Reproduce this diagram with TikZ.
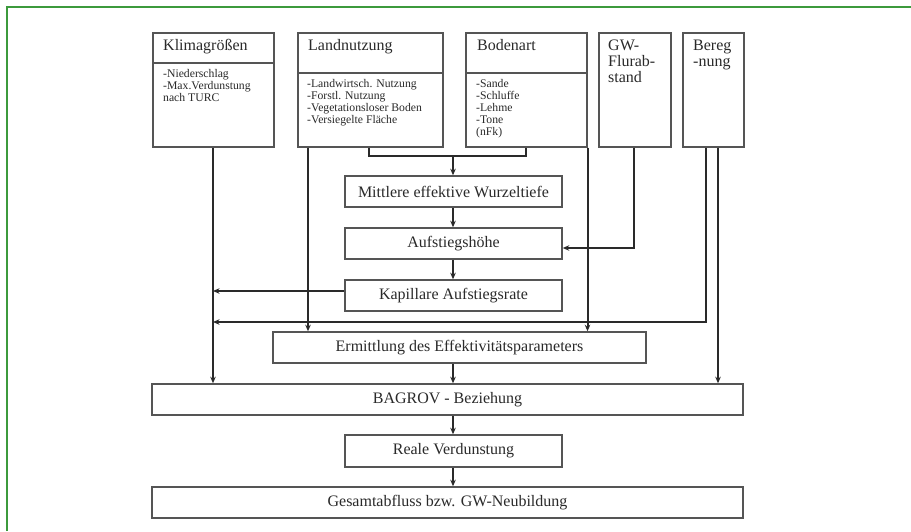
\documentclass[tikz,border=0pt]{standalone}
\usepackage{fontspec}
\setmainfont{Liberation Serif}
\usetikzlibrary{arrows.meta}
\definecolor{frameg}{HTML}{3C9A3C}
\definecolor{boxc}{HTML}{555555}
\definecolor{linec}{HTML}{2A2A2A}
\definecolor{txtc}{HTML}{2A2A2A}
\tikzset{
  box/.style={draw=boxc, line width=1.5pt, fill=white, inner sep=0pt, text=txtc,
    font=\fontsize{16}{16}\selectfont},
  titletxt/.style={anchor=base west, inner sep=0pt, text=txtc, font=\fontsize{16}{16}\selectfont},
  multitxt/.style={anchor=north west, inner sep=0pt, align=left, text=txtc, font=\fontsize{16}{16}\selectfont},
  subtxt/.style={anchor=north west, inner sep=0pt, align=left, text=txtc, font=\fontsize{11.7}{12.2}\selectfont},
  conn/.style={draw=linec, line width=2pt},
  arr/.style={conn, -{Stealth[length=6.5pt,width=5.5pt]}},
  divider/.style={draw=boxc, line width=1.5pt}
}
\begin{document}
\begin{tikzpicture}[x=1pt,y=-1pt]
\useasboundingbox (0,0) rectangle (911,531);
% green frame
\draw[frameg, line width=2pt] (7,531) -- (7,7) -- (911,7);

% top boxes
\node[box, anchor=north west, minimum width=121pt, minimum height=114pt] (klima) at (152,32) {};
\node[box, anchor=north west, minimum width=145pt, minimum height=114pt] (land) at (297,32) {};
\node[box, anchor=north west, minimum width=121pt, minimum height=114pt] (boden) at (465,32) {};
\node[box, anchor=north west, minimum width=72pt, minimum height=114pt] (gw) at (598,32) {};
\node[box, anchor=north west, minimum width=61pt, minimum height=114pt] (bereg) at (682,32) {};

% dividers
\draw[divider] (klima.west |- 0,63) -- (klima.east |- 0,63);
\draw[divider] (land.west |- 0,73) -- (land.east |- 0,73);
\draw[divider] (boden.west |- 0,73) -- (boden.east |- 0,73);

% titles
\node[titletxt] (klimat) at (163,50) {Klimagrößen};
\node[titletxt] (landt) at (308,50) {Landnutzung};
\node[titletxt] (bodent) at (477,50) {Bodenart};
\node[multitxt] (gwt) at (608,39.4) {GW-\\Flurab-\\stand};
\node[multitxt] (veregt) at (693,39.4) {Bereg\\-nung};

% sub texts
\node[subtxt] (klimas) at (163,68.8) {-Niederschlag\\-Max.Verdunstung\\nach TURC};
\node[subtxt] (lands) at (307,78.8) {-Landwirtsch. Nutzung\\-Forstl. Nutzung\\-Vegetationsloser Boden\\-Versiegelte Fläche};
\node[subtxt] (bodens) at (476,78.8) {-Sande\\-Schluffe\\-Lehme\\-Tone\\(nFk)};

% middle boxes
\node[box, minimum width=217pt, minimum height=31pt] (mwt) at (453.5,191.5) {Mittlere effektive Wurzeltiefe};
\node[box, minimum width=217pt, minimum height=31pt] (auf) at (453.5,243.5) {Aufstiegshöhe};
\node[box, minimum width=217pt, minimum height=31pt] (kap) at (453.5,295.5) {Kapillare Aufstiegsrate};
\node[box, minimum width=373pt, minimum height=31pt] (erm) at (459.5,347.5) {Ermittlung des Effektivitätsparameters};
\node[box, minimum width=591pt, minimum height=31pt] (bag) at (447.5,399.5) {BAGROV - Beziehung};
\node[box, minimum width=217pt, minimum height=32pt] (real) at (453.5,451) {Reale Verdunstung};
\node[box, minimum width=591pt, minimum height=31pt] (ges) at (447.5,502.5) {Gesamtabfluss bzw. GW-Neubildung};

% helper coordinates
\coordinate (brk) at (453,156);
\coordinate (kx) at (213,0);
\coordinate (lx) at (308,0);
\coordinate (bx) at (718,0);

% connectors
\draw[arr] (klima.south -| kx) -- (bag.north -| kx);
\draw[arr] (land.south -| lx) -- (erm.north -| lx);
\draw[conn] (land.south -| 369,0) -- (369,156) -- (526,156) -- (boden.south -| 526,0);
\draw[arr] (brk) -- (mwt.north -| brk);
\draw[arr] (mwt.south -| brk) -- (auf.north -| brk);
\draw[arr] (auf.south -| brk) -- (kap.north -| brk);
\draw[arr] (gw.south -| 634,0) -- (634,248) -- (auf.east |- 0,248);
\draw[arr] (kap.west |- 0,291) -- (213,291);
\draw[arr] (bereg.south -| 706,0) -- (706,322) -- (213,322);
\draw[arr] (boden.south east) -- (erm.north -| boden.east);
\draw[arr] (erm.south -| brk) -- (bag.north -| brk);
\draw[arr] (bereg.south -| bx) -- (bag.north -| bx);
\draw[arr] (bag.south -| brk) -- (real.north -| brk);
\draw[arr] (real.south -| brk) -- (ges.north -| brk);
\end{tikzpicture}
\end{document}
